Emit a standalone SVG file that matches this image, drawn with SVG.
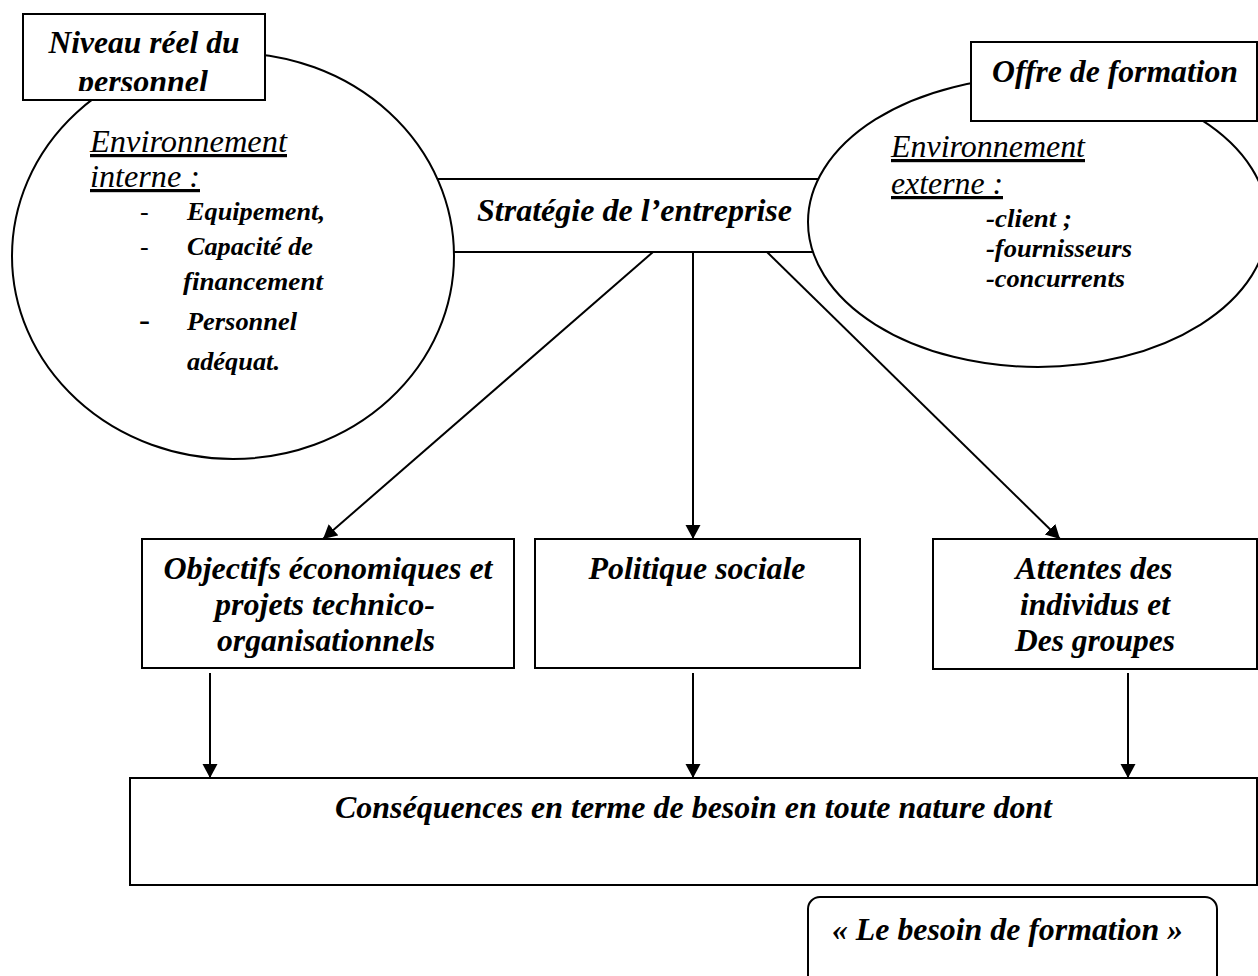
<svg xmlns="http://www.w3.org/2000/svg" width="1258" height="976" viewBox="0 0 1258 976">
<defs>
<style>
.ln{stroke:#000;stroke-width:2;fill:none}
.bx{stroke:#000;stroke-width:2;fill:#fff}
.t{font-family:"Liberation Serif","Times New Roman",serif;font-style:italic;font-weight:bold;fill:#000}
.r{font-weight:normal;text-decoration:underline}
.s32{font-size:32px}
.s26{font-size:26px}
.m{text-anchor:middle}
</style>
<marker id="ah" markerUnits="userSpaceOnUse" markerWidth="16" markerHeight="16" refX="14" refY="7.5" orient="auto">
<path d="M0,0 L14,7.5 L0,15 z" fill="#000"/>
</marker>
<clipPath id="clipN"><rect x="24" y="15" width="240" height="76"/></clipPath>
</defs>
<rect width="1258" height="976" fill="#fff"/>

<g id="strategie">
<rect class="bx" x="300" y="179" width="620" height="73"/>
<text class="t s32 m" x="634.5" y="221" textLength="315" lengthAdjust="spacingAndGlyphs">Stratégie de l’entreprise</text>
</g>

<g id="env-interne">
<ellipse class="bx" cx="233" cy="256" rx="221" ry="203"/>
<text class="t s32 r" x="90" y="152" textLength="197" lengthAdjust="spacingAndGlyphs">Environnement</text>
<text class="t s32 r" x="90" y="187" textLength="110" lengthAdjust="spacingAndGlyphs">interne :</text>
<text class="t s26" x="140" y="220" style="font-weight:normal">-</text>
<text class="t s26" x="140" y="255" style="font-weight:normal">-</text>
<text class="t" x="139" y="331" style="font-weight:normal;font-size:33px">-</text>
<text class="t s26" x="187" y="220" textLength="138" lengthAdjust="spacingAndGlyphs">Equipement,</text>
<text class="t s26" x="187" y="255" textLength="126" lengthAdjust="spacingAndGlyphs">Capacité de</text>
<text class="t s26" x="183" y="290" textLength="140" lengthAdjust="spacingAndGlyphs">financement</text>
<text class="t s26" x="187" y="330" textLength="110" lengthAdjust="spacingAndGlyphs">Personnel</text>
<text class="t s26" x="187" y="370" textLength="93" lengthAdjust="spacingAndGlyphs">adéquat.</text>
</g>

<g id="env-externe">
<ellipse class="bx" cx="1038" cy="222" rx="230" ry="145"/>
<text class="t s32 r" x="891" y="157" textLength="194" lengthAdjust="spacingAndGlyphs">Environnement</text>
<text class="t s32 r" x="891" y="194" textLength="112" lengthAdjust="spacingAndGlyphs">externe :</text>
<text class="t s26" x="986" y="227" textLength="86" lengthAdjust="spacingAndGlyphs">-client ;</text>
<text class="t s26" x="986" y="257" textLength="146" lengthAdjust="spacingAndGlyphs">-fournisseurs</text>
<text class="t s26" x="986" y="287" textLength="139" lengthAdjust="spacingAndGlyphs">-concurrents</text>
</g>

<g id="niveau">
<rect class="bx" x="23" y="14" width="242" height="86"/>
<g clip-path="url(#clipN)">
<text class="t s32 m" x="144" y="53" textLength="191" lengthAdjust="spacingAndGlyphs">Niveau réel du</text>
<text class="t s32 m" x="143" y="92" textLength="130" lengthAdjust="spacingAndGlyphs">personnel</text>
</g>
</g>

<g id="offre">
<rect class="bx" x="971" y="42" width="286" height="79"/>
<text class="t s32" x="992" y="82" textLength="246" lengthAdjust="spacingAndGlyphs">Offre de formation</text>
</g>

<g id="objectifs">
<rect class="bx" x="142" y="539" width="372" height="129"/>
<text class="t s32 m" x="328" y="579" textLength="329" lengthAdjust="spacingAndGlyphs">Objectifs économiques et</text>
<text class="t s32 m" x="325" y="615" textLength="220" lengthAdjust="spacingAndGlyphs">projets technico-</text>
<text class="t s32 m" x="326" y="651" textLength="218" lengthAdjust="spacingAndGlyphs">organisationnels</text>
</g>

<g id="politique">
<rect class="bx" x="535" y="539" width="325" height="129"/>
<text class="t s32 m" x="697" y="579" textLength="217" lengthAdjust="spacingAndGlyphs">Politique sociale</text>
</g>

<g id="attentes">
<rect class="bx" x="933" y="539" width="324" height="130"/>
<text class="t s32 m" x="1094" y="579" textLength="157" lengthAdjust="spacingAndGlyphs">Attentes des</text>
<text class="t s32 m" x="1095" y="615" textLength="150" lengthAdjust="spacingAndGlyphs">individus et</text>
<text class="t s32 m" x="1095" y="651" textLength="160" lengthAdjust="spacingAndGlyphs">Des groupes</text>
</g>

<g id="consequences">
<rect class="bx" x="130" y="778" width="1127" height="107"/>
<text class="t s32 m" x="693.5" y="818" textLength="717" lengthAdjust="spacingAndGlyphs">Conséquences en terme de besoin en toute nature dont</text>
</g>

<g id="besoin">
<rect class="bx" x="808" y="897" width="409" height="100" rx="12" ry="12"/>
<text class="t s32 m" x="1007.5" y="940" textLength="351" lengthAdjust="spacingAndGlyphs">« Le besoin de formation »</text>
</g>

<g id="connectors">
<line class="ln" x1="653" y1="252" x2="323" y2="539" marker-end="url(#ah)"/>
<line class="ln" x1="693" y1="252" x2="693" y2="539" marker-end="url(#ah)"/>
<line class="ln" x1="767" y1="252" x2="1060" y2="539" marker-end="url(#ah)"/>
<line class="ln" x1="210" y1="673" x2="210" y2="778" marker-end="url(#ah)"/>
<line class="ln" x1="693" y1="673" x2="693" y2="778" marker-end="url(#ah)"/>
<line class="ln" x1="1128" y1="673" x2="1128" y2="778" marker-end="url(#ah)"/>
</g>
</svg>
